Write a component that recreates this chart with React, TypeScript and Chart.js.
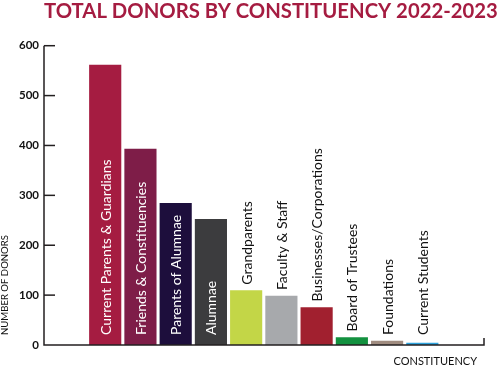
import React, { useEffect, useRef } from "react";
import { Chart, registerables } from "chart.js";

Chart.register(...registerables);

const categories = [
  "Current Parents & Guardians",
  "Friends & Constituencies",
  "Parents of Alumnae",
  "Alumnae",
  "Grandparents",
  "Faculty & Staff",
  "Businesses/Corporations",
  "Board of Trustees",
  "Foundations",
  "Current Students",
];
const donors = [561, 393, 284, 252, 109, 98, 75, 15, 8, 4];
const barColors = [
  "#A51C41",
  "#7E1D48",
  "#1D0E3C",
  "#3C3C3E",
  "#C3D647",
  "#A7A9AC",
  "#A1202F",
  "#13913F",
  "#A08C80",
  "#2EA3DD",
];
const yTicks = [0, 100, 200, 300, 400, 500, 600];
const insideLabelCount = 4;
const titleText = "TOTAL DONORS BY CONSTITUENCY 2022-2023";
const yTitle = "NUMBER OF DONORS";
const xTitle = "CONSTITUENCY";

const X_MIN = -0.737;
const X_MAX = 11.75;
const AXIS_COLOR = "#231F20";
const Y_TITLE_LEN = 100;

const decorPlugin = {
  id: "decor",
  afterDatasetsDraw(chart: any) {
    const ctx = chart.ctx;
    const area = chart.chartArea;
    const ys = chart.scales.y;
    const meta = chart.getDatasetMeta(0);
    ctx.save();
    // axes
    ctx.strokeStyle = AXIS_COLOR;
    ctx.lineWidth = 1.5;
    ctx.beginPath();
    ctx.moveTo(area.left, ys.getPixelForValue(600));
    ctx.lineTo(area.left, area.bottom);
    ctx.lineTo(area.right, area.bottom);
    ctx.lineTo(area.right, area.bottom - 7);
    ctx.stroke();
    // inward ticks
    yTicks.forEach((v) => {
      const py = ys.getPixelForValue(v);
      if (v === 0) return;
      ctx.beginPath();
      ctx.moveTo(area.left, py);
      ctx.lineTo(area.left + 11, py);
      ctx.stroke();
    });
    // bar labels
    ctx.font = "14px Lato";
    ctx.textAlign = "left";
    ctx.textBaseline = "middle";
    meta.data.forEach((bar: any, i: number) => {
      const inside = i < insideLabelCount;
      const startY = inside ? bar.base - 10 : Math.min(bar.y - 6, bar.base - 10);
      ctx.save();
      ctx.translate(bar.x + 1, startY);
      ctx.rotate(-Math.PI / 2);
      ctx.fillStyle = inside ? "#FFFFFF" : "#111111";
      ctx.fillText(categories[i], 0, 0);
      ctx.restore();
    });
    // title
    ctx.fillStyle = "#A51C41";
    ctx.font = "bold 20.3px Lato";
    ctx.textAlign = "left";
    ctx.textBaseline = "alphabetic";
    ctx.fillText(titleText, 44, 17.5);
    // x title
    ctx.fillStyle = "#111111";
    ctx.font = "11px Lato";
    ctx.textAlign = "right";
    ctx.textBaseline = "middle";
    ctx.fillText(xTitle, 477, 361);
    // y title
    ctx.save();
    ctx.font = "11px Lato";
    const w = ctx.measureText(yTitle).width;
    const size = Math.min(12, (11 * Y_TITLE_LEN) / w);
    ctx.font = size.toFixed(2) + "px Lato";
    ctx.translate(5, 335);
    ctx.rotate(-Math.PI / 2);
    ctx.textAlign = "left";
    ctx.textBaseline = "middle";
    ctx.fillText(yTitle, 0, 0);
    ctx.restore();
    ctx.restore();
  },
};

export default function App() {
  const ref = useRef<HTMLCanvasElement | null>(null);
  useEffect(() => {
    document.body.style.margin = "0";
    const canvas = ref.current;
    if (!canvas) return;
    const chart = new Chart(canvas, {
      type: "bar",
      data: {
        datasets: [
          {
            data: donors.map((v, i) => ({ x: i + 1, y: v })),
            backgroundColor: barColors,
            borderWidth: 0,
            barThickness: 31.5,
          },
        ],
      },
      options: {
        animation: false,
        responsive: false,
        maintainAspectRatio: false,
        devicePixelRatio: 1,
        layout: { padding: { top: 45.7, bottom: 25, left: 0, right: 16 } },
        plugins: {
          legend: { display: false },
          title: { display: false },
          tooltip: { enabled: false },
        },
        scales: {
          x: {
            type: "linear",
            min: X_MIN,
            max: X_MAX,
            offset: false,
            grid: { display: false, drawTicks: false, offset: false },
            border: { display: false },
            ticks: { display: false },
            afterFit(scale: any) {
              scale.height = 0;
            },
          },
          y: {
            min: 0,
            max: 600,
            grid: { display: false, drawTicks: false },
            border: { display: false },
            ticks: {
              stepSize: 100,
              padding: 5,
              color: "#111111",
              font: { family: "Lato", size: 11.5, weight: "bold" },
            },
            afterFit(scale: any) {
              scale.width = 44;
            },
          },
        },
      },
      plugins: [decorPlugin],
    } as any);
    return () => chart.destroy();
  }, []);
  return (
    <div style={{ position: "absolute", left: 0, top: 0, width: 500, height: 370 }}>
      <canvas ref={ref} width={500} height={370} style={{ width: 500, height: 370 }} />
    </div>
  );
}
